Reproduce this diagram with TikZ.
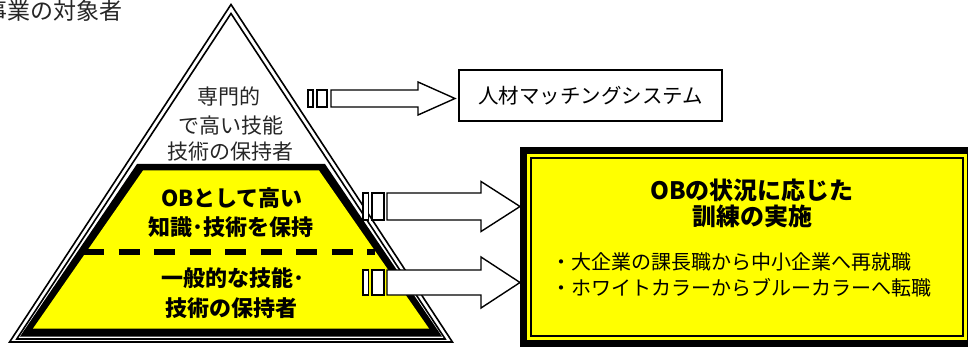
\documentclass[tikz,border=0pt]{standalone}
\usepackage{fontspec}
\setmainfont{Noto Sans CJK JP}
\newfontfamily\jp{Noto Sans CJK JP}
\definecolor{pyellow}{HTML}{FFFF00}
\begin{document}
\begin{tikzpicture}[x=1pt,y=-1pt,
  triline/.style={draw=black,line width=1.6pt,line join=miter},
  blockarr/.style={draw=black,fill=white,line width=1.4pt,line join=miter},
  thin/.style={inner sep=0pt,font=\jp\fontsize{21}{21}\selectfont,text=black!85},
  boldtxt/.style={inner sep=0pt,font=\jp\bfseries\fontsize{22}{22}\selectfont,text=black},
  titletxt/.style={inner sep=0pt,font=\jp\bfseries\fontsize{24}{24}\selectfont,text=black},
  bullettxt/.style={inner sep=0pt,font=\jp\fontsize{20}{20}\selectfont,text=black,anchor=west}]
\useasboundingbox (0,0) rectangle (968,347);
\clip (0,0) rectangle (968,347);
\fill[white] (0,0) rectangle (968,347);

% heading (cut off at left edge, as in the reference)
\node[thin,anchor=west,font=\jp\fontsize{23}{23}\selectfont] (head) at (-16,11) {事業の対象者};

% pyramid: double outline
\draw[triline] (231,4.5) -- (452.4,342) -- (9.6,342) -- cycle;
\draw[triline] (231,13.5) -- (445.2,339) -- (16.8,339) -- cycle;
% black band and yellow body
\fill[black] (137,164) -- (325,164) -- (442,336.5) -- (20,336.5) -- cycle;
\fill[pyellow] (143,170.5) -- (319,170.5) -- (429,328.5) -- (33,328.5) -- cycle;
\draw[line width=6pt,dash pattern=on 21pt off 14.5pt] (83,252) -- (375,252);

% texts in the pyramid
\node[thin] (p1) at (229,97) {専門的};
\node[thin] (p2) at (231,126) {で高い技能};
\node[thin] (p3) at (230,152) {技術の保持者};
\node[boldtxt] (y1) at (232,198) {OBとして高い};
\node[boldtxt] (y2) at (231,227) {知識･技術を保持};
\node[boldtxt] (y3) at (233,278) {一般的な技能･};
\node[boldtxt] (y4) at (231,308) {技術の保持者};

% matching system box
\node[draw=black,line width=2pt,minimum width=263pt,minimum height=51pt,inner sep=0pt,
  font=\jp\fontsize{20.5}{20.5}\selectfont] (match) at (590.5,95.5) {人材マッチングシステム};

% training box
\node[draw=black,line width=7pt,fill=pyellow,minimum width=447pt,minimum height=193pt,inner sep=0pt] (train) at (747,247) {};
\node[draw=black,line width=1.3pt,minimum width=432pt,minimum height=178pt,inner sep=0pt] (traininner) at (train.center) {};
\node[titletxt] (t1) at (752,190) {OBの状況に応じた};
\node[titletxt] (t2) at (752,216) {訓練の実施};
\node[bullettxt] (b1) at (551,262) {・大企業の課長職から中小企業へ再就職};
\node[bullettxt] (b2) at (551,288) {・ホワイトカラーからブルーカラーへ転職};

% block arrows
\coordinate (tipA) at (455,98.5);
\coordinate (tipB) at (520,206.5);
\coordinate (tipC) at (520,282.5);
\draw[blockarr] (308,90) rectangle (313,107);
\draw[blockarr] (317,90) rectangle (327,107);
\draw[blockarr] (331,90) -- (418,90) -- (418,82) -- (tipA) -- (418,115) -- (418,107) -- (331,107) -- cycle;

\draw[blockarr] (363,193) rectangle (368.5,220);
\draw[blockarr] (372,193) rectangle (384,220);
\draw[blockarr] (387,193) -- (481,193) -- (481,181.5) -- (tipB) -- (481,231.5) -- (481,220) -- (387,220) -- cycle;

\draw[blockarr] (363,270) rectangle (368.5,295);
\draw[blockarr] (372,270) rectangle (384,295);
\draw[blockarr] (387,270) -- (481,270) -- (481,257) -- (tipC) -- (481,308) -- (481,295) -- (387,295) -- cycle;
\end{tikzpicture}
\end{document}
